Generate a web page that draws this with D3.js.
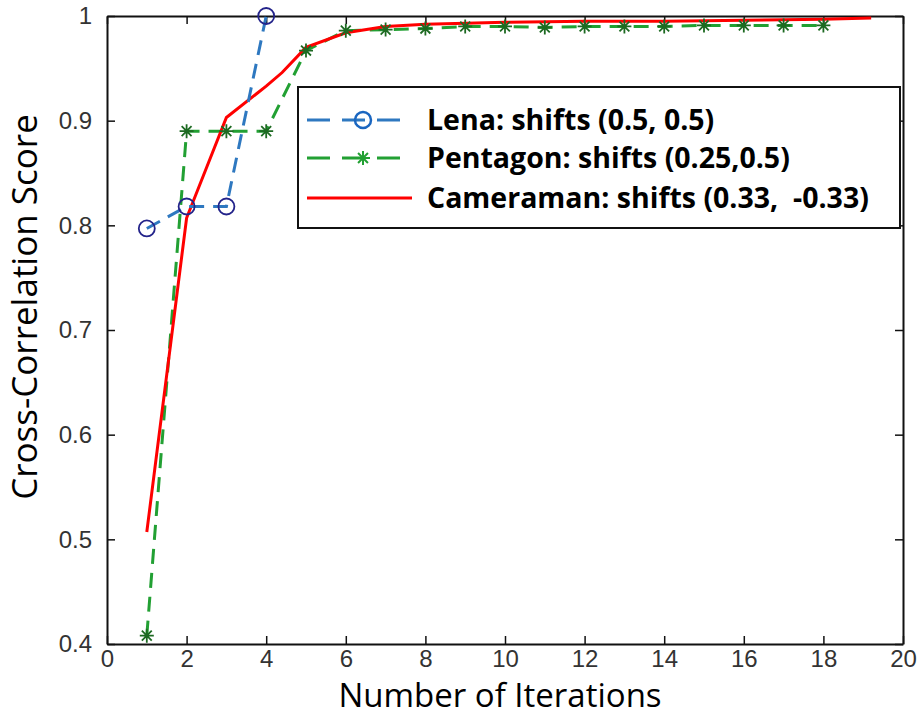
<!DOCTYPE html>
<html>
<head>
<meta charset="utf-8">
<script src="https://cdn.jsdelivr.net/npm/d3@7"></script>
<style>
  body { margin: 0; background: #fff; }
</style>
</head>
<body>
<div id="wrapper"></div>
<script>
/*global d3*/

// series data
const lenaX = [1, 2, 3, 4]
const lenaY = [0.797, 0.818, 0.818, 1.0]

const pentagonX = [1, 2, 3, 4, 5, 6, 7, 8, 9, 10, 11, 12, 13, 14, 15, 16, 17, 18]
const pentagonY = [0.408, 0.89, 0.89, 0.89, 0.967, 0.986, 0.987, 0.988, 0.99, 0.99, 0.989, 0.99, 0.99, 0.99, 0.991, 0.991, 0.991, 0.991]

const cameramanX = [1, 2, 3, 4, 4.4, 5, 6, 7, 8, 10, 12, 14, 16, 18, 19.2]
const cameramanY = [0.507, 0.807, 0.903, 0.933, 0.946, 0.97, 0.984, 0.99, 0.992, 0.994, 0.995, 0.995, 0.996, 0.997, 0.998]

const xTicks = [0, 2, 4, 6, 8, 10, 12, 14, 16, 18, 20]
const yTicks = [0.4, 0.5, 0.6, 0.7, 0.8, 0.9, 1]

const legendLabels = [
    "Lena: shifts (0.5, 0.5)",
    "Pentagon: shifts (0.25,0.5)",
    "Cameraman: shifts (0.33,  -0.33)",
]

const dims = {
    width: 918,
    height: 718,
    margin: { top: 16, right: 15, bottom: 74, left: 107 },
}
dims.boundedWidth = dims.width - dims.margin.left - dims.margin.right
dims.boundedHeight = dims.height - dims.margin.top - dims.margin.bottom

const svg = d3.select("#wrapper")
    .append("svg")
    .attr("width", dims.width)
    .attr("height", dims.height)

const bounds = svg.append("g")
    .attr("transform", `translate(${dims.margin.left},${dims.margin.top})`)

const xScale = d3.scaleLinear()
    .domain([0, 20])
    .range([0, dims.boundedWidth])

const yScale = d3.scaleLinear()
    .domain([0.4, 1])
    .range([dims.boundedHeight, 0])

// axes, MATLAB style: ticks pointing in on all four sides
const tickFont = "'Liberation Sans Narrow', 'Liberation Sans', Arial, sans-serif"
const titleFont = "'Open Sans', 'Noto Sans', sans-serif"

const xAxis = bounds.append("g")
    .attr("transform", `translate(0,${dims.boundedHeight})`)
    .call(d3.axisBottom(xScale).tickValues(xTicks).tickSize(-8).tickSizeOuter(0).tickPadding(6))
const yAxis = bounds.append("g")
    .call(d3.axisLeft(yScale).tickValues(yTicks).tickSize(-8).tickSizeOuter(0).tickPadding(15)
        .tickFormat(d => d === 1 ? "1" : d3.format(".1f")(d)))
const topAxis = bounds.append("g")
    .call(d3.axisTop(xScale).tickValues(xTicks).tickSize(-8).tickSizeOuter(0).tickFormat(""))
const rightAxis = bounds.append("g")
    .attr("transform", `translate(${dims.boundedWidth},0)`)
    .call(d3.axisRight(yScale).tickValues(yTicks).tickSize(-8).tickSizeOuter(0).tickFormat(""))

bounds.selectAll(".domain").attr("stroke", "#111").attr("stroke-width", 2)
bounds.selectAll(".tick line").attr("stroke", "#111").attr("stroke-width", 1.5)
bounds.selectAll(".tick text")
    .attr("fill", "#333")
    .style("font-size", "24px")
    .style("font-family", tickFont)

// lines
const lineGen = d3.line()
    .x(d => xScale(d[0]))
    .y(d => yScale(d[1]))

const lena = d3.zip(lenaX, lenaY)
const pentagon = d3.zip(pentagonX, pentagonY)
const cameraman = d3.zip(cameramanX, cameramanY)

const lenaColor = "#2e78c0"
const pentColor = "#22a033"
const camColor = "#ff0000"

bounds.append("path")
    .datum(pentagon)
    .attr("d", lineGen)
    .attr("fill", "none")
    .attr("stroke", pentColor)
    .attr("stroke-width", 3)
    .style("stroke-dasharray", "15 9")

bounds.append("path")
    .datum(cameraman)
    .attr("d", lineGen)
    .attr("fill", "none")
    .attr("stroke", camColor)
    .attr("stroke-width", 3)

bounds.append("path")
    .datum(lena)
    .attr("d", lineGen)
    .attr("fill", "none")
    .attr("stroke", lenaColor)
    .attr("stroke-width", 3)
    .style("stroke-dasharray", "15 9")

// markers
const starPath = r => {
    const d = r * Math.SQRT1_2
    return `M${-r},0L${r},0M0,${-r}L0,${r}M${-d},${-d}L${d},${d}M${-d},${d}L${d},${-d}`
}

bounds.append("g")
    .selectAll("path")
    .data(pentagon)
    .join("path")
    .attr("transform", d => `translate(${xScale(d[0])},${yScale(d[1])})`)
    .attr("d", starPath(7))
    .attr("stroke", "#1d6a22")
    .attr("stroke-width", 1.8)

bounds.append("g")
    .selectAll("circle")
    .data(lena)
    .join("circle")
    .attr("cx", d => xScale(d[0]))
    .attr("cy", d => yScale(d[1]))
    .attr("r", 8)
    .attr("fill", "none")
    .attr("stroke", "#23238a")
    .attr("stroke-width", 1.8)

// legend
const legend = svg.append("g")
    .attr("transform", "translate(298,87)")

legend.append("rect")
    .attr("width", 602)
    .attr("height", 141)
    .attr("fill", "#fff")
    .attr("stroke", "#111")
    .attr("stroke-width", 2)

const legendItems = [
    { color: lenaColor, dash: "15 9", marker: "circle" },
    { color: pentColor, dash: "15 9", marker: "star" },
    { color: camColor, dash: null, marker: null },
]

const rowY = [33, 71, 111]

legendItems.forEach((item, i) => {
    const g = legend.append("g").attr("transform", `translate(0,${rowY[i]})`)
    g.append("line")
        .attr("x1", 9).attr("x2", 114)
        .attr("stroke", item.color)
        .attr("stroke-width", 3)
        .style("stroke-dasharray", item.dash ? "23 12" : null)
    if (item.marker === "circle") {
        g.append("circle").attr("cx", 65).attr("r", 8)
            .attr("fill", "none").attr("stroke", "#1a66c0").attr("stroke-width", 2.5)
    } else if (item.marker === "star") {
        g.append("path").attr("transform", "translate(65,0)")
            .attr("d", starPath(7)).attr("stroke", pentColor).attr("stroke-width", 2)
    }
    g.append("text")
        .attr("x", 129)
        .attr("dy", "0.36em")
        .style("white-space", "pre")
        .text(legendLabels[i])
        .style("font-family", titleFont)
        .style("font-weight", "bold")
        .style("font-size", "28.5px")
        .attr("fill", "#000")
})

// axis titles
svg.append("text")
    .attr("x", 500)
    .attr("y", 707)
    .attr("text-anchor", "middle")
    .text("Number of Iterations")
    .style("font-family", titleFont)
    .style("font-size", "33px")

svg.append("text")
    .attr("transform", "translate(37,307) rotate(-90)")
    .attr("text-anchor", "middle")
    .text("Cross-Correlation Score")
    .style("font-family", titleFont)
    .style("font-size", "35px")
</script>
</body>
</html>
